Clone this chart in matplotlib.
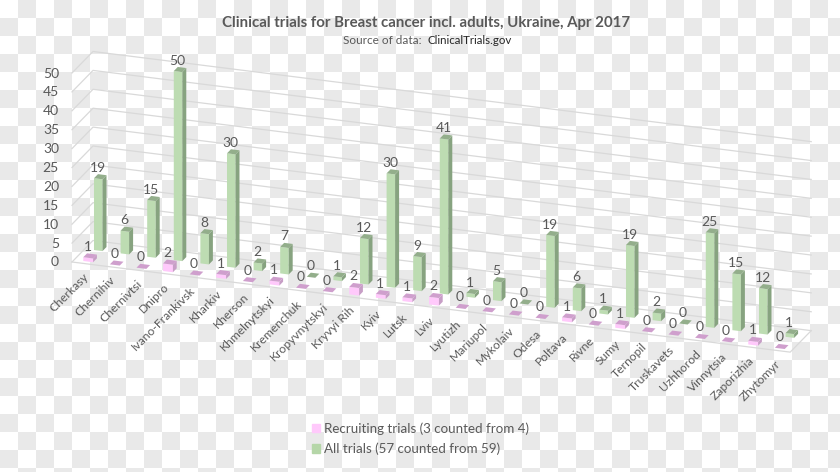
import numpy as np
import matplotlib
matplotlib.use("Agg")
import matplotlib.pyplot as plt
from matplotlib.patches import Patch

cities = ["Cherkasy", "Chernihiv", "Chernivtsi", "Dnipro", "Ivano-Frankivsk", "Kharkiv", "Kherson",
          "Khmelnytskyi", "Kremenchuk", "Kropyvnytskyi", "Kryvyi Rih", "Kyiv", "Lutsk", "Lviv",
          "Lyutizh", "Mariupol", "Mykolaiv", "Odesa", "Poltava", "Rivne", "Sumy", "Ternopil",
          "Truskavets", "Uzhhorod", "Vinnytsia", "Zaporizhia", "Zhytomyr"]
recruiting = [1, 0, 0, 2, 0, 1, 0, 1, 0, 0, 2, 1, 1, 2, 0, 0, 0, 0, 1, 0, 1, 0, 0, 0, 0, 1, 0]
all_trials = [19, 6, 15, 50, 8, 30, 2, 7, 0, 1, 12, 30, 9, 41, 1, 5, 0, 19, 6, 1, 19, 2, 0, 25, 15, 12, 1]
y_ticks = [0, 5, 10, 15, 20, 25, 30, 35, 40, 45, 50]

plt.rcParams['font.family'] = ['Lato', 'DejaVu Sans']
GREY = '#595959'

# oblique projection, pixels of the picture
X0, Y0 = 72, 262
CAT_W = 26.6
SLOPE = 0.1255
PX_PER_UNIT = 3.78
DEPTH_X, DEPTH_Y = 21, -21.5


def proj(cat, val, depth):
    x = X0 + cat * CAT_W + depth * DEPTH_X
    y = Y0 + cat * CAT_W * SLOPE - val * PX_PER_UNIT + depth * DEPTH_Y
    return x, y


fig = plt.figure(figsize=(8.4, 4.72), dpi=100)
ax = fig.add_axes([0, 0, 1, 1])
ax.axis('off')

# checker background of the source image
xx, yy = np.meshgrid(np.arange(47), np.arange(27))
ax.imshow((xx + yy) % 2, cmap=matplotlib.colors.ListedColormap(['#ffffff', '#e9e9e9']),
          extent=(0, 846, 486, 0), interpolation='nearest', zorder=0, aspect='auto')
ax.set_xlim(0, 840)
ax.set_ylim(472, 0)

n = len(cities)
grid_c = '#d9d9d9'
for v in y_ticks:
    pts = [proj(0, v, 0), proj(0, v, 1), proj(n, v, 1)]
    ax.plot([p[0] for p in pts], [p[1] for p in pts], color=grid_c, lw=0.9, zorder=1)
    ax.text(59, proj(0, v, 0)[1] + 0.5, str(v), ha='right', va='center', fontsize=10, color=GREY)
floor = [proj(0, 0, 0), proj(n, 0, 0), proj(n, 0, 1)]
ax.plot([p[0] for p in floor], [p[1] for p in floor], color=grid_c, lw=0.9, zorder=1)


def bar(i, val, left, width, d0, d1, front, side, top, z):
    a, b = left, left + width
    if val > 0:
        q = [proj(i + a, 0, d0), proj(i + b, 0, d0), proj(i + b, val, d0), proj(i + a, val, d0)]
        ax.fill(*zip(*q), color=front, lw=0, zorder=z)
        q = [proj(i + b, 0, d0), proj(i + b, 0, d1), proj(i + b, val, d1), proj(i + b, val, d0)]
        ax.fill(*zip(*q), color=side, lw=0, zorder=z)
    q = [proj(i + a, val, d0), proj(i + b, val, d0), proj(i + b, val, d1), proj(i + a, val, d1)]
    ax.fill(*zip(*q), color=top, lw=0, zorder=z)
    # value label above the front face
    cx, cy = proj(i + a + width / 2, val, d0)
    ax.text(cx - 0.5, cy - 11, str(val), ha='center', va='center', fontsize=10, color=GREY, zorder=6)


for i in range(n):
    bar(i, all_trials[i], 0.345, 0.32, 0.61, 0.80, '#bddcb2', '#87a380', '#93ae8b', 3)
    bar(i, recruiting[i], 0.345, 0.37, 0.10, 0.28, '#ffc9fb', '#c79ec6', '#cf9fcd', 4)

    lx, ly = proj(i, 0, 0)
    ax.text(lx + 15, ly + 13, cities[i], rotation=45, rotation_mode='anchor', ha='right', va='center',
            fontsize=8.7, color=GREY, zorder=6)

ax.text(426.5, 23, "Clinical trials for Breast cancer incl. adults, Ukraine, Apr 2017", ha='center', va='center',
        fontsize=10.8, fontweight='bold', color=GREY)
ax.text(343, 41, "Source of data:", ha='left', va='center', fontsize=8.5, color=GREY)
ax.text(427, 41, "ClinicalTrials.gov", ha='left', va='center', fontsize=8.3, color='#262626')

handles = [Patch(color='#ffc9fb', label="Recruiting trials (3 counted from 4)"),
           Patch(color='#b5d6a8', label="All trials (57 counted from 59)")]
leg = ax.legend(handles=handles, loc='upper left', bbox_to_anchor=(312 / 840, 1 - 422 / 472), frameon=False,
                fontsize=9.6, labelcolor=GREY, handlelength=0.6, handleheight=0.6, handletextpad=0.3,
                labelspacing=0.6, borderpad=0, borderaxespad=0)

fig.savefig('out.png', dpi=100)
